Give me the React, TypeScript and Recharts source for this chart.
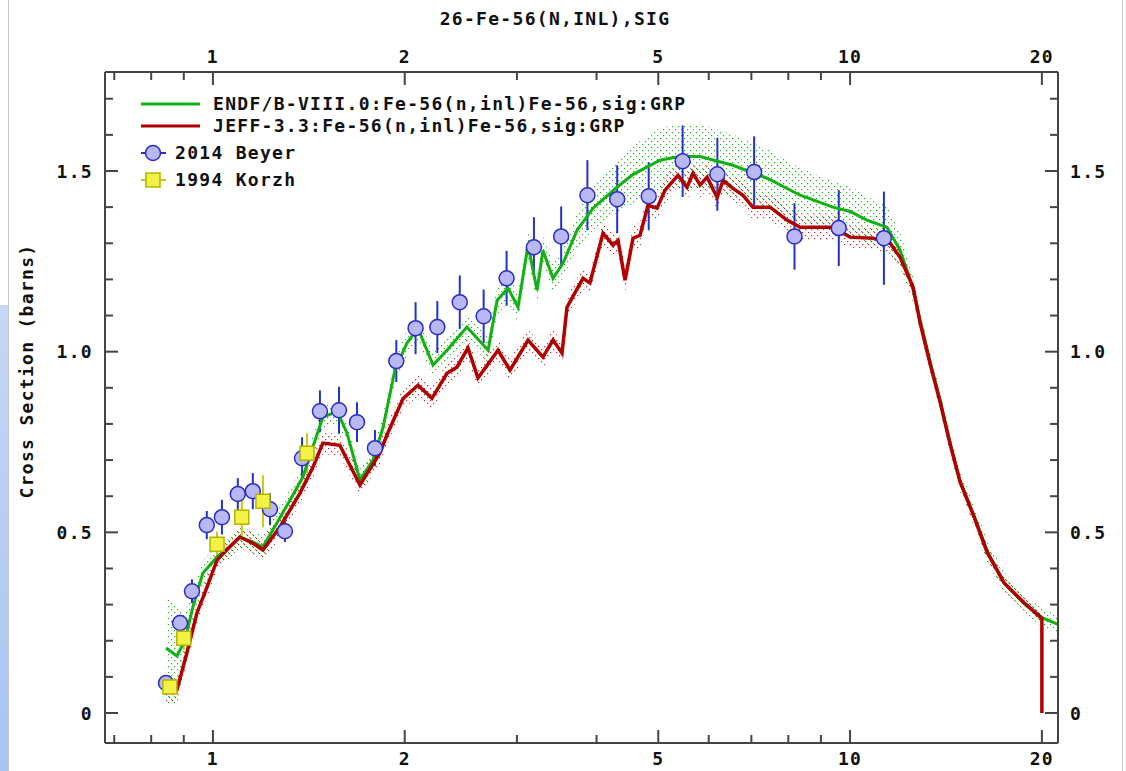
import React from "react";
import {
  Area,
  ComposedChart,
  ErrorBar,
  Line,
  Scatter,
  XAxis,
  YAxis,
} from "recharts";

// ENDF/B-VIII.0 evaluated curve (MeV, barns) and its uncertainty half-width
const endfEnergy = [
  0.844, 0.878, 0.904, 0.93, 0.964, 1.015, 1.063, 1.102, 1.155, 1.198, 1.26,
  1.321, 1.384, 1.435, 1.488, 1.543, 1.582, 1.623, 1.701, 1.783, 1.849, 1.93,
  2.016, 2.098, 2.215, 2.33, 2.504, 2.703, 2.792, 2.905, 3.012, 3.123, 3.226,
  3.296, 3.418, 3.544, 3.728, 3.95, 4.307, 4.56, 5.03, 5.4, 5.815, 6.55, 7.41,
  8.35, 9.4, 10.0, 10.63, 11.43, 11.98, 12.51, 12.88, 13.36, 13.85, 14.35,
  14.88, 15.66, 16.41, 17.45, 18.76, 20.0, 21.2,
];
const endfSigma = [
  0.18, 0.158, 0.202, 0.293, 0.387, 0.432, 0.46, 0.487, 0.473, 0.46, 0.526,
  0.589, 0.653, 0.736, 0.819, 0.83, 0.819, 0.775, 0.645, 0.7, 0.79, 0.949,
  1.024, 1.065, 0.963, 1.004, 1.068, 1.004, 1.142, 1.176, 1.123, 1.295, 1.17,
  1.28, 1.203, 1.245, 1.336, 1.397, 1.455, 1.49, 1.53, 1.54, 1.54, 1.516, 1.48,
  1.433, 1.4, 1.388, 1.364, 1.344, 1.281, 1.184, 1.087, 0.971, 0.864, 0.748,
  0.641, 0.545, 0.448, 0.36, 0.302, 0.264, 0.245,
];
const endfUnc = [
  0.15, 0.14, 0.08, 0.05, 0.035, 0.03, 0.03, 0.03, 0.03, 0.03, 0.03, 0.03,
  0.03, 0.03, 0.03, 0.03, 0.03, 0.03, 0.03, 0.03, 0.035, 0.035, 0.035, 0.035,
  0.035, 0.035, 0.035, 0.035, 0.04, 0.04, 0.04, 0.04, 0.04, 0.04, 0.04, 0.04,
  0.05, 0.06, 0.07, 0.08, 0.09, 0.09, 0.09, 0.085, 0.08, 0.075, 0.07, 0.07,
  0.065, 0.06, 0.05, 0.04, 0.03, 0.03, 0.03, 0.03, 0.03, 0.03, 0.03, 0.03,
  0.025, 0.025, 0.025,
];

// JEFF-3.3 evaluated curve; last point is the drop to zero at 20 MeV
const jeffEnergy = [
  0.841, 0.878, 0.91, 0.944, 0.979, 1.015, 1.063, 1.102, 1.155, 1.198, 1.274,
  1.369, 1.435, 1.488, 1.582, 1.701, 1.829, 1.876, 1.988, 2.098, 2.207, 2.33,
  2.415, 2.513, 2.606, 2.802, 2.926, 3.123, 3.296, 3.418, 3.531, 3.595, 3.809,
  3.906, 4.095, 4.246, 4.323, 4.434, 4.564, 4.681, 4.818, 4.977, 5.124, 5.37,
  5.548, 5.669, 5.815, 5.965, 6.185, 6.32, 6.55, 6.79, 7.04, 7.49, 7.96, 8.35,
  8.75, 9.4, 10.0, 10.87, 11.56, 11.98, 12.56, 12.88, 13.36, 13.85, 14.35,
  14.88, 15.66, 16.41, 17.45, 18.76, 20.0, 20.0,
];
const jeffSigma = [
  0.055, 0.064, 0.166, 0.277, 0.349, 0.423, 0.46, 0.487, 0.47, 0.451, 0.515,
  0.608, 0.68, 0.747, 0.741, 0.631, 0.72, 0.77, 0.87, 0.907, 0.871, 0.94,
  0.957, 1.01, 0.927, 1.004, 0.949, 1.032, 0.985, 1.032, 0.996, 1.123, 1.203,
  1.19, 1.328, 1.295, 1.308, 1.198, 1.314, 1.322, 1.405, 1.397, 1.447, 1.488,
  1.455, 1.494, 1.461, 1.483, 1.427, 1.474, 1.452, 1.433, 1.4, 1.4, 1.364,
  1.344, 1.344, 1.344, 1.317, 1.314, 1.3, 1.261, 1.178, 1.08, 0.965, 0.86,
  0.745, 0.64, 0.542, 0.445, 0.36, 0.305, 0.262, 0,
];
const jeffUnc = [
  0.03, 0.03, 0.03, 0.03, 0.03, 0.03, 0.03, 0.03, 0.03, 0.03, 0.03, 0.03, 0.03,
  0.03, 0.03, 0.03, 0.03, 0.03, 0.03, 0.03, 0.03, 0.03, 0.03, 0.03, 0.03, 0.03,
  0.03, 0.03, 0.03, 0.03, 0.03, 0.03, 0.03, 0.03, 0.035, 0.035, 0.035, 0.035,
  0.035, 0.035, 0.035, 0.035, 0.035, 0.035, 0.035, 0.035, 0.035, 0.035, 0.035,
  0.035, 0.035, 0.035, 0.035, 0.035, 0.035, 0.035, 0.035, 0.035, 0.03, 0.03,
  0.03, 0.03, 0.02, 0.02, 0.02, 0.02, 0.02, 0.02, 0.02, 0.02, 0.02, 0.02,
  0.02,
];

// 2014 Beyer measurement
const beyerEnergy = [
  0.844, 0.888, 0.927, 0.978, 1.033, 1.094, 1.155, 1.229, 1.297, 1.38, 1.472,
  1.577, 1.683, 1.796, 1.94, 2.08, 2.25, 2.44, 2.66, 2.89, 3.19, 3.52, 3.87,
  4.31, 4.83, 5.46, 6.19, 7.07, 8.18, 9.6, 11.3,
];
const beyerSigma = [
  0.083, 0.249, 0.337, 0.52, 0.542, 0.606, 0.614, 0.564, 0.503, 0.705, 0.835,
  0.838, 0.805, 0.733, 0.974, 1.065, 1.068, 1.137, 1.098, 1.203, 1.289, 1.319,
  1.433, 1.422, 1.43, 1.527, 1.491, 1.497, 1.319, 1.342, 1.314,
];
const beyerErr = [
  0.015, 0.023, 0.033, 0.039, 0.048, 0.044, 0.05, 0.044, 0.03, 0.058, 0.058,
  0.065, 0.055, 0.05, 0.058, 0.072, 0.072, 0.074, 0.074, 0.076, 0.083, 0.083,
  0.097, 0.094, 0.094, 0.099, 0.101, 0.099, 0.092, 0.105, 0.129,
];

// 1994 Korzh measurement
const korzhEnergy = [0.856, 0.9, 1.015, 1.11, 1.198, 1.405];
const korzhSigma = [0.072, 0.207, 0.467, 0.542, 0.586, 0.719];
const korzhErr = [0.01, 0.032, 0.035, 0.06, 0.072, 0.055];

const xTicks = [0.7, 0.8, 0.9, 1, 2, 3, 4, 5, 6, 7, 8, 9, 10, 20];
const xLabeled = [1, 2, 5, 10, 20];
const yTicks = [
  0, 0.1, 0.2, 0.3, 0.4, 0.5, 0.6, 0.7, 0.8, 0.9, 1, 1.1, 1.2, 1.3, 1.4, 1.5,
  1.6, 1.7,
];
const yLabeled = [0, 0.5, 1, 1.5];
const yLabelText = ["0", "0.5", "1.0", "1.5"];

const endfLine = endfEnergy.map((x, i) => ({ x, y: endfSigma[i] }));
const endfBand = endfEnergy.map((x, i) => ({
  x,
  band: [endfSigma[i] - endfUnc[i], endfSigma[i] + endfUnc[i]],
}));
const jeffLine = jeffEnergy.map((x, i) => ({ x, y: jeffSigma[i] }));
const jeffBand = jeffUnc.map((u, i) => ({
  x: jeffEnergy[i],
  band: [jeffSigma[i] - u, jeffSigma[i] + u],
}));
const beyer = beyerEnergy.map((x, i) => ({ x, y: beyerSigma[i], err: beyerErr[i] }));
const korzh = korzhEnergy.map((x, i) => ({ x, y: korzhSigma[i], err: korzhErr[i] }));

const font = {
  fontFamily: "'DejaVu Sans Mono', monospace",
  fontWeight: 700,
  fontSize: 18,
  letterSpacing: 1.3,
  fill: "#111",
};
const frame = "#444";

const XTick = (props: any) => {
  const { x, y, payload, top } = props;
  const v = payload.value;
  const major = xLabeled.includes(v);
  const len = major ? 13 : 8;
  const dir = top ? 1 : -1;
  return (
    <g>
      <line x1={x} y1={y} x2={x} y2={y + dir * len} stroke={frame} strokeWidth={2} />
      {major && (
        <text x={x} y={top ? y - 9 : y + 22} textAnchor="middle" style={font}>
          {v}
        </text>
      )}
    </g>
  );
};

const YTick = (props: any) => {
  const { x, y, payload, right } = props;
  const v = payload.value;
  const idx = yLabeled.findIndex((t) => Math.abs(t - v) < 1e-6);
  const len = idx >= 0 ? 13 : 8;
  const dir = right ? -1 : 1;
  return (
    <g>
      <line x1={x} y1={y} x2={x + dir * len} y2={y} stroke={frame} strokeWidth={2} />
      {idx >= 0 && (
        <text
          x={right ? x + 12 : x - 12}
          y={y + 6.5}
          textAnchor={right ? "start" : "end"}
          style={font}
        >
          {yLabelText[idx]}
        </text>
      )}
    </g>
  );
};

const Circle = (p: any) => (
  <circle cx={p.cx} cy={p.cy} r={7.5} fill="#b8b8f4" stroke="#2a2ac8" strokeWidth={1.5} />
);
const Square = (p: any) => (
  <rect x={p.cx - 7} y={p.cy - 7} width={14} height={14} fill="#f2f244" stroke="#b4b400" strokeWidth={1.5} />
);

const xDomain = [0.677, 21.2];
const yDomain = [-0.083, 1.774];

export default function App() {
  return (
    <div style={{ position: "absolute", left: 0, top: 0, width: 1126, height: 771, background: "#fff" }}>
      <div style={{ position: "absolute", left: 0, top: 305, width: 8, height: 466, background: "linear-gradient(#c4d8f6, #a8c4f0)" }} />
      <div style={{ position: "absolute", left: 8, top: 0, width: 1, height: 771, background: "#c8c8c8" }} />
      <div style={{ position: "absolute", left: 1122, top: 0, width: 1, height: 771, background: "#c8c8c8" }} />
      <svg width={0} height={0} style={{ position: "absolute" }}>
        <defs>
          <pattern id="greenDots" width={6} height={6} patternUnits="userSpaceOnUse">
            <rect x={0} y={0} width={1.2} height={1.2} fill="#22b422" />
            <rect x={3} y={3} width={1.2} height={1.2} fill="#22b422" />
          </pattern>
          <pattern id="redDots" width={6} height={6} patternUnits="userSpaceOnUse">
            <rect x={1} y={1} width={1.2} height={1.2} fill="#d02828" />
            <rect x={4} y={4} width={1.2} height={1.2} fill="#d02828" />
          </pattern>
        </defs>
      </svg>
      <ComposedChart width={1126} height={771} margin={{ top: 0, right: 0, bottom: 0, left: 0 }}>
        <XAxis
          dataKey="x"
          type="number"
          scale="log"
          domain={xDomain}
          allowDataOverflow
          ticks={xTicks}
          interval={0}
          height={28}
          tickSize={0}
          tickMargin={0}
          tickLine={false}
          axisLine={{ stroke: frame, strokeWidth: 2 }}
          tick={(p: any) => <XTick {...p} />}
        />
        <XAxis
          xAxisId="top"
          orientation="top"
          dataKey="x"
          type="number"
          scale="log"
          domain={xDomain}
          allowDataOverflow
          ticks={xTicks}
          interval={0}
          height={72}
          tickSize={0}
          tickMargin={0}
          tickLine={false}
          axisLine={{ stroke: frame, strokeWidth: 2 }}
          tick={(p: any) => <XTick {...p} top />}
        />
        <YAxis
          dataKey="y"
          type="number"
          domain={yDomain}
          allowDataOverflow
          ticks={yTicks}
          interval={0}
          width={105}
          tickSize={0}
          tickMargin={0}
          tickLine={false}
          axisLine={{ stroke: frame, strokeWidth: 2 }}
          tick={(p: any) => <YTick {...p} />}
        />
        <YAxis
          yAxisId="right"
          orientation="right"
          type="number"
          domain={yDomain}
          allowDataOverflow
          ticks={yTicks}
          interval={0}
          width={68}
          tickSize={0}
          tickMargin={0}
          tickLine={false}
          axisLine={{ stroke: frame, strokeWidth: 2 }}
          tick={(p: any) => <YTick {...p} right />}
        />
        <Scatter data={beyer} shape={Circle} isAnimationActive={false}>
          <ErrorBar dataKey="err" direction="y" width={0} stroke="#2233cc" strokeWidth={2} />
        </Scatter>
        <Scatter data={korzh} shape={Square} isAnimationActive={false}>
          <ErrorBar dataKey="err" direction="y" width={0} stroke="#c8c810" strokeWidth={2} />
        </Scatter>
        <Area data={endfBand} dataKey="band" type="linear" stroke="none" fill="url(#greenDots)" fillOpacity={1} dot={false} activeDot={false} isAnimationActive={false} />
        <Area data={jeffBand} dataKey="band" type="linear" stroke="none" fill="url(#redDots)" fillOpacity={1} dot={false} activeDot={false} isAnimationActive={false} />
        <Line data={endfLine} dataKey="y" type="linear" stroke="#12b012" strokeWidth={3} dot={false} activeDot={false} isAnimationActive={false} />
        <Line data={jeffLine} dataKey="y" type="linear" stroke="#b00000" strokeWidth={3.5} dot={false} activeDot={false} isAnimationActive={false} />
      </ComposedChart>
      <svg width={1126} height={771} style={{ position: "absolute", left: 0, top: 0, pointerEvents: "none" }}>
        <text x={555} y={25} textAnchor="middle" style={font}>
          26-Fe-56(N,INL),SIG
        </text>
        <text transform="translate(33,371) rotate(-90)" textAnchor="middle" style={font}>
          Cross Section (barns)
        </text>
        <line x1={141} y1={104} x2={200} y2={104} stroke="#12b012" strokeWidth={3} />
        <text x={213} y={110} style={font}>ENDF/B-VIII.0:Fe-56(n,inl)Fe-56,sig:GRP</text>
        <line x1={141} y1={126} x2={200} y2={126} stroke="#b00000" strokeWidth={3} />
        <text x={213} y={132} style={font}>JEFF-3.3:Fe-56(n,inl)Fe-56,sig:GRP</text>
        <line x1={141} y1={153} x2={166} y2={153} stroke="#2233cc" strokeWidth={2} />
        <circle cx={153} cy={153} r={7.5} fill="#b8b8f4" stroke="#2a2ac8" strokeWidth={1.5} />
        <text x={175} y={159} style={font}>2014 Beyer</text>
        <line x1={141} y1={180} x2={166} y2={180} stroke="#c8c810" strokeWidth={2} />
        <rect x={146} y={173} width={14} height={14} fill="#f2f244" stroke="#b4b400" strokeWidth={1.5} />
        <text x={175} y={186} style={font}>1994 Korzh</text>
      </svg>
    </div>
  );
}
